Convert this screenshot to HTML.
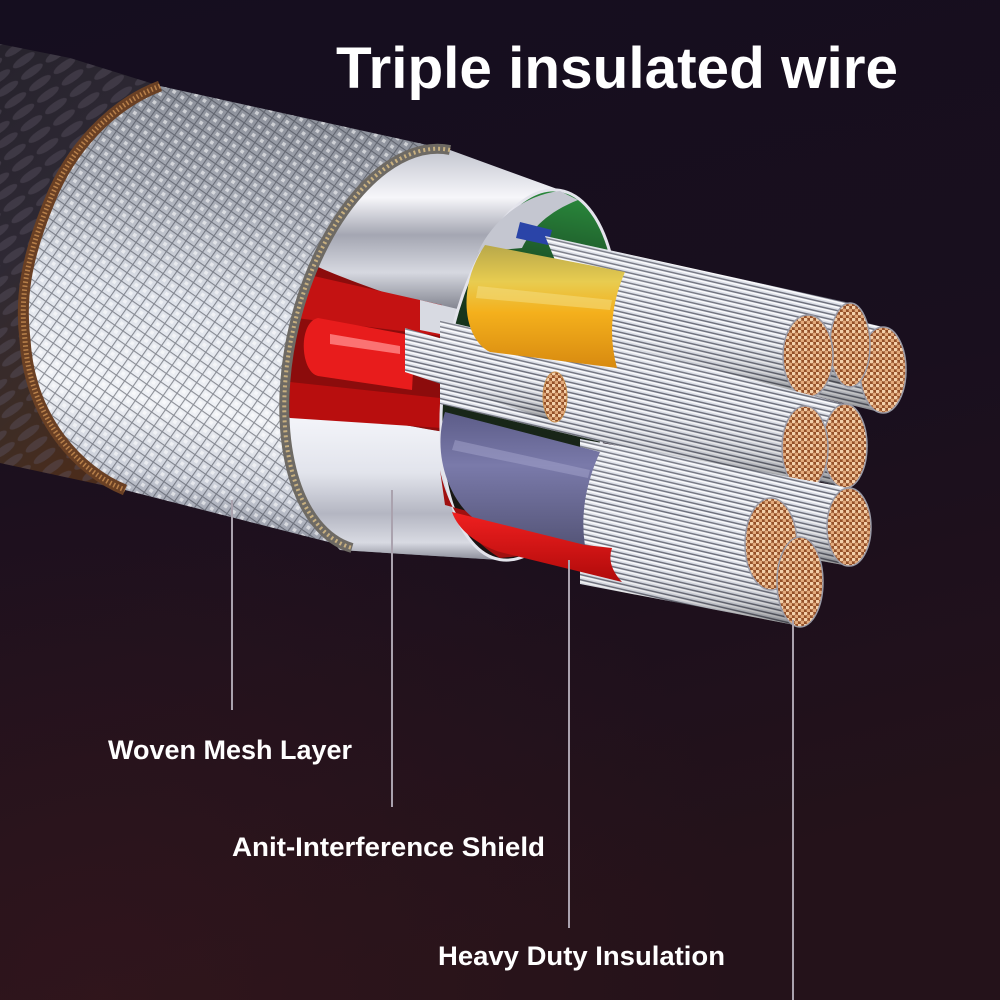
<!DOCTYPE html>
<html><head><meta charset="utf-8"><style>
html,body{margin:0;padding:0;background:#170f1e;}
svg{display:block}
</style></head><body>
<svg width="1000" height="1000" viewBox="0 0 1000 1000" xmlns="http://www.w3.org/2000/svg">
<defs>
 <linearGradient id="bg" x1="0" y1="0" x2="0.25" y2="1">
  <stop offset="0" stop-color="#150e1f"/>
  <stop offset="0.55" stop-color="#190f1e"/>
  <stop offset="1" stop-color="#24121a"/>
 </linearGradient>
 <radialGradient id="bgr" cx="0.1" cy="1" r="0.65">
  <stop offset="0" stop-color="#3a181c" stop-opacity="0.55"/>
  <stop offset="1" stop-color="#3a181c" stop-opacity="0"/>
 </radialGradient>
 <linearGradient id="jk" x1="0" y1="0" x2="0.35" y2="1">
  <stop offset="0" stop-color="#26222c"/>
  <stop offset="0.45" stop-color="#2e2934"/>
  <stop offset="0.8" stop-color="#3e2c24"/>
  <stop offset="1" stop-color="#4a2c1c"/>
 </linearGradient>
 <pattern id="braid" width="30" height="14" patternUnits="userSpaceOnUse" patternTransform="rotate(-35)">
  <ellipse cx="15" cy="7" rx="13" ry="4" fill="#5c5664" opacity="0.4"/>
 </pattern>
 <linearGradient id="mesh" gradientUnits="userSpaceOnUse" x1="250" y1="100" x2="170" y2="510">
  <stop offset="0" stop-color="#8c909a"/>
  <stop offset="0.25" stop-color="#aaaeb8"/>
  <stop offset="0.5" stop-color="#dde1e9"/>
  <stop offset="0.75" stop-color="#f0f2f6"/>
  <stop offset="0.92" stop-color="#ccd0da"/>
  <stop offset="1" stop-color="#9ca0ac"/>
 </linearGradient>
 <pattern id="knurl" width="10" height="10" patternUnits="userSpaceOnUse" patternTransform="rotate(35)">
  <path d="M0 0H10M0 0V10" stroke="#3a3e48" stroke-width="2.2" opacity="0.55"/>
  <rect x="3.5" y="3.5" width="3.5" height="3.5" fill="#ffffff" opacity="0.55"/>
 </pattern>
 <linearGradient id="shU" gradientUnits="userSpaceOnUse" x1="0" y1="150" x2="0" y2="320">
  <stop offset="0" stop-color="#c4c6d0"/>
  <stop offset="0.28" stop-color="#f6f6fa"/>
  <stop offset="0.5" stop-color="#a4a6b2"/>
  <stop offset="0.72" stop-color="#d6d8e0"/>
  <stop offset="1" stop-color="#6a6c78"/>
 </linearGradient>
 <linearGradient id="shL" gradientUnits="userSpaceOnUse" x1="0" y1="415" x2="0" y2="560">
  <stop offset="0" stop-color="#f4f5fa"/>
  <stop offset="0.4" stop-color="#e2e4ec"/>
  <stop offset="0.68" stop-color="#b4b6c2"/>
  <stop offset="0.88" stop-color="#d8dae2"/>
  <stop offset="1" stop-color="#8a8c98"/>
 </linearGradient>
 <linearGradient id="inner" x1="0" y1="0" x2="0" y2="1">
  <stop offset="0" stop-color="#2a8a3c"/>
  <stop offset="0.3" stop-color="#163a1e"/>
  <stop offset="1" stop-color="#1a1012"/>
 </linearGradient>
 <pattern id="str" width="20" height="5" patternUnits="userSpaceOnUse" patternTransform="rotate(13)">
  <rect width="20" height="5" fill="#dcdfe8"/>
  <rect y="3.6" width="20" height="1.4" fill="#6a6c78"/>
  <rect y="0.6" width="20" height="1.2" fill="#ffffff"/>
 </pattern>
 <linearGradient id="shade" x1="0" y1="0" x2="0" y2="1">
  <stop offset="0" stop-color="#ffffff" stop-opacity="0.15"/>
  <stop offset="0.45" stop-color="#ffffff" stop-opacity="0"/>
  <stop offset="0.8" stop-color="#000000" stop-opacity="0.12"/>
  <stop offset="1" stop-color="#000000" stop-opacity="0.4"/>
 </linearGradient>
 <pattern id="cu" width="6" height="6" patternUnits="userSpaceOnUse">
  <rect width="6" height="6" fill="#945028"/>
  <circle cx="1.5" cy="1.5" r="1.9" fill="#f4d0aa"/>
  <circle cx="4.5" cy="4.5" r="1.9" fill="#e2aa7c"/>
 </pattern>
 <linearGradient id="yel" x1="0" y1="0" x2="0" y2="1">
  <stop offset="0" stop-color="#b8a84a"/>
  <stop offset="0.3" stop-color="#e8cc50"/>
  <stop offset="0.55" stop-color="#f4b01c"/>
  <stop offset="1" stop-color="#d88a10"/>
 </linearGradient>
 <linearGradient id="pur" x1="0" y1="0" x2="0" y2="1">
  <stop offset="0" stop-color="#5c5c88"/>
  <stop offset="0.4" stop-color="#7a7aaa"/>
  <stop offset="1" stop-color="#555578"/>
 </linearGradient>
 <linearGradient id="redl" x1="0" y1="0" x2="0" y2="1">
  <stop offset="0" stop-color="#f02020"/>
  <stop offset="1" stop-color="#b00a0a"/>
 </linearGradient>
</defs>

<rect width="1000" height="1000" fill="url(#bg)"/>
<rect width="1000" height="1000" fill="url(#bgr)"/>

<!-- jacket -->
<path d="M0,44 L70,58 L160,86 C110,105 70,150 50,200 C25,260 20,300 25,340 C30,420 80,472 125,490 L0,463 Z" fill="url(#jk)"/>
<path d="M0,44 L70,58 L160,86 C110,105 70,150 50,200 C25,260 20,300 25,340 C30,420 80,472 125,490 L0,463 Z" fill="url(#braid)"/>

<!-- shield body -->
<path d="M450,150 L560,190 A85 187 9.2 0 1 500,560 L340,550 L265,470 L262,330 L285,230 L360,150 Z" fill="url(#shU)"/>
<!-- lower shield -->
<path d="M286,417 C340,410 400,425 445,432 C440,480 465,530 500,560 L340,550 L265,470 L270,417 Z" fill="url(#shL)"/>
<!-- red cut-away -->
<path d="M300,258 C330,275 400,298 470,322 L470,345 L445,432 C400,425 340,410 288,418 C278,380 280,300 300,258 Z" fill="#8c0c0c"/>
<polygon points="296,272 442,305 442,336 296,318" fill="#c41212"/>
<path d="M318,318 L415,336 L412,390 L318,376 C300,372 298,322 318,318 Z" fill="#e81c1c"/>
<path d="M330,334 L400,346 L400,354 L330,344 Z" fill="#ff8a8a" opacity="0.8"/>
<polygon points="290,382 440,398 442,428 290,418" fill="#b80e0e"/>
<polygon points="420,300 470,312 470,340 420,330" fill="#d8dae2"/>

<!-- shield end interior & rim -->
<ellipse cx="530" cy="375" rx="85" ry="187" transform="rotate(9.2 530 375)" fill="url(#inner)" stroke="#e4e4ec" stroke-width="3"/>
<path d="M560,191 C530,194 495,215 478,252 L522,248 C532,228 548,212 578,200 Z" fill="#c4c6d0"/>
<path d="M440,470 C448,510 470,540 500,558 L520,556 L500,520 L445,505 Z" fill="#a01010"/>
<path d="M520,222 L552,230 L548,245 L516,238 Z" fill="#2a44a8"/>

<!-- bundles back -->
<polygon points="610,259 883,327 883,413 610,345" fill="url(#str)"/>
<polygon points="610,259 883,327 883,413 610,345" fill="url(#shade)"/>
<ellipse cx="883" cy="370" rx="23" ry="43" fill="url(#cu)" stroke="#9a9aa6" stroke-width="1.5"/>

<polygon points="545,236 850,303 850,387 580,320" fill="url(#str)"/>
<polygon points="545,236 850,303 850,387 580,320" fill="url(#shade)"/>
<ellipse cx="850" cy="345" rx="20" ry="42" fill="url(#cu)" stroke="#9a9aa6" stroke-width="1.5"/>

<polygon points="600,267 808,315 808,397 600,349" fill="url(#str)"/>
<polygon points="600,267 808,315 808,397 600,349" fill="url(#shade)"/>
<ellipse cx="808" cy="356" rx="25" ry="41" fill="url(#cu)" stroke="#9a9aa6" stroke-width="1.5"/>

<polygon points="560,330 845,404 845,488 560,414" fill="url(#str)"/>
<polygon points="560,330 845,404 845,488 560,414" fill="url(#shade)"/>
<ellipse cx="845" cy="446" rx="22" ry="42" fill="url(#cu)" stroke="#9a9aa6" stroke-width="1.5"/>

<polygon points="440,320 805,406 805,490 440,404" fill="url(#str)"/>
<polygon points="440,320 805,406 805,490 440,404" fill="url(#shade)"/>
<ellipse cx="805" cy="448" rx="23" ry="42" fill="url(#cu)" stroke="#9a9aa6" stroke-width="1.5"/>

<!-- thin bundle -->
<polygon points="405,328 555,372 555,422 405,372" fill="url(#str)"/>
<polygon points="405,328 555,372 555,422 405,372" fill="url(#shade)"/>
<ellipse cx="555" cy="397" rx="12" ry="25" fill="url(#cu)" stroke="#c89050" stroke-width="1"/>

<polygon points="580,439 849,488 849,566 580,517" fill="url(#str)"/>
<polygon points="580,439 849,488 849,566 580,517" fill="url(#shade)"/>
<ellipse cx="849" cy="527" rx="22" ry="39" fill="url(#cu)" stroke="#9a9aa6" stroke-width="1.5"/>

<polygon points="560,450 771,498 771,590 560,542" fill="url(#str)"/>
<polygon points="560,450 771,498 771,590 560,542" fill="url(#shade)"/>

<polygon points="580,500 800,538 800,626 580,584" fill="url(#str)"/>
<polygon points="580,500 800,538 800,626 580,584" fill="url(#shade)"/>
<ellipse cx="771" cy="544" rx="26" ry="46" fill="url(#cu)" stroke="#9a9aa6" stroke-width="1.5"/>
<ellipse cx="800" cy="582" rx="23" ry="45" fill="url(#cu)" stroke="#9a9aa6" stroke-width="1.5"/>

<!-- yellow wire -->
<path d="M485,245 L625,272 Q604,320 617,368 L490,352 C465,340 455,290 485,245 Z" fill="url(#yel)"/>
<path d="M478,286 L612,300 L610,310 L476,298 Z" fill="#f4dc80" opacity="0.55"/>
<!-- purple wire -->
<path d="M445,412 L600,452 Q578,500 585,546 L480,522 C455,510 430,460 445,412 Z" fill="url(#pur)"/>
<path d="M455,440 L590,470 L588,478 L452,450 Z" fill="#a4a4cc" opacity="0.5"/>
<!-- red lower wire -->
<path d="M452,512 L585,545 L612,548 Q606,565 622,582 L500,552 C478,545 458,530 452,512 Z" fill="url(#redl)"/>

<!-- mesh -->
<path d="M160,86 L450,150 A112 205 13.8 0 0 352,548 L125,490 C80,472 30,420 25,340 C20,300 25,260 50,200 C70,150 110,105 160,86 Z" fill="url(#mesh)"/>
<path d="M160,86 L450,150 A112 205 13.8 0 0 352,548 L125,490 C80,472 30,420 25,340 C20,300 25,260 50,200 C70,150 110,105 160,86 Z" fill="url(#knurl)"/>
<!-- mesh rim band -->
<path d="M450,150 A112 205 13.8 0 0 352,548" fill="none" stroke="#6e6a64" stroke-width="10"/>
<path d="M450,150 A112 205 13.8 0 0 352,548" fill="none" stroke="#c8b080" stroke-width="4" stroke-dasharray="2 3"/>
<!-- copper braid edge -->
<path d="M160,86 C110,105 70,150 50,200 C25,260 20,300 25,340 C30,420 80,472 125,490" fill="none" stroke="#6a4024" stroke-width="11"/>
<path d="M160,86 C110,105 70,150 50,200 C25,260 20,300 25,340 C30,420 80,472 125,490" fill="none" stroke="#b8804a" stroke-width="5" stroke-dasharray="1.5 2.5"/>

<!-- leader lines -->
<g stroke="#aaa2ae" stroke-width="2">
 <line x1="232" y1="500" x2="232" y2="710"/>
 <line x1="392" y1="490" x2="392" y2="807"/>
 <line x1="569" y1="560" x2="569" y2="928"/>
 <line x1="793" y1="620" x2="793" y2="1000"/>
</g>

<!-- text -->
<g font-family="'Liberation Sans', Arial, sans-serif" font-weight="bold" fill="#ffffff">
 <text x="336" y="88" font-size="58" textLength="562" lengthAdjust="spacingAndGlyphs">Triple insulated wire</text>
 <text x="108" y="759" font-size="27" textLength="244" lengthAdjust="spacingAndGlyphs">Woven Mesh Layer</text>
 <text x="232" y="856" font-size="27" textLength="313" lengthAdjust="spacingAndGlyphs">Anit-Interference Shield</text>
 <text x="438" y="965" font-size="27" textLength="287" lengthAdjust="spacingAndGlyphs">Heavy Duty Insulation</text>
</g>
</svg>
</body></html>
